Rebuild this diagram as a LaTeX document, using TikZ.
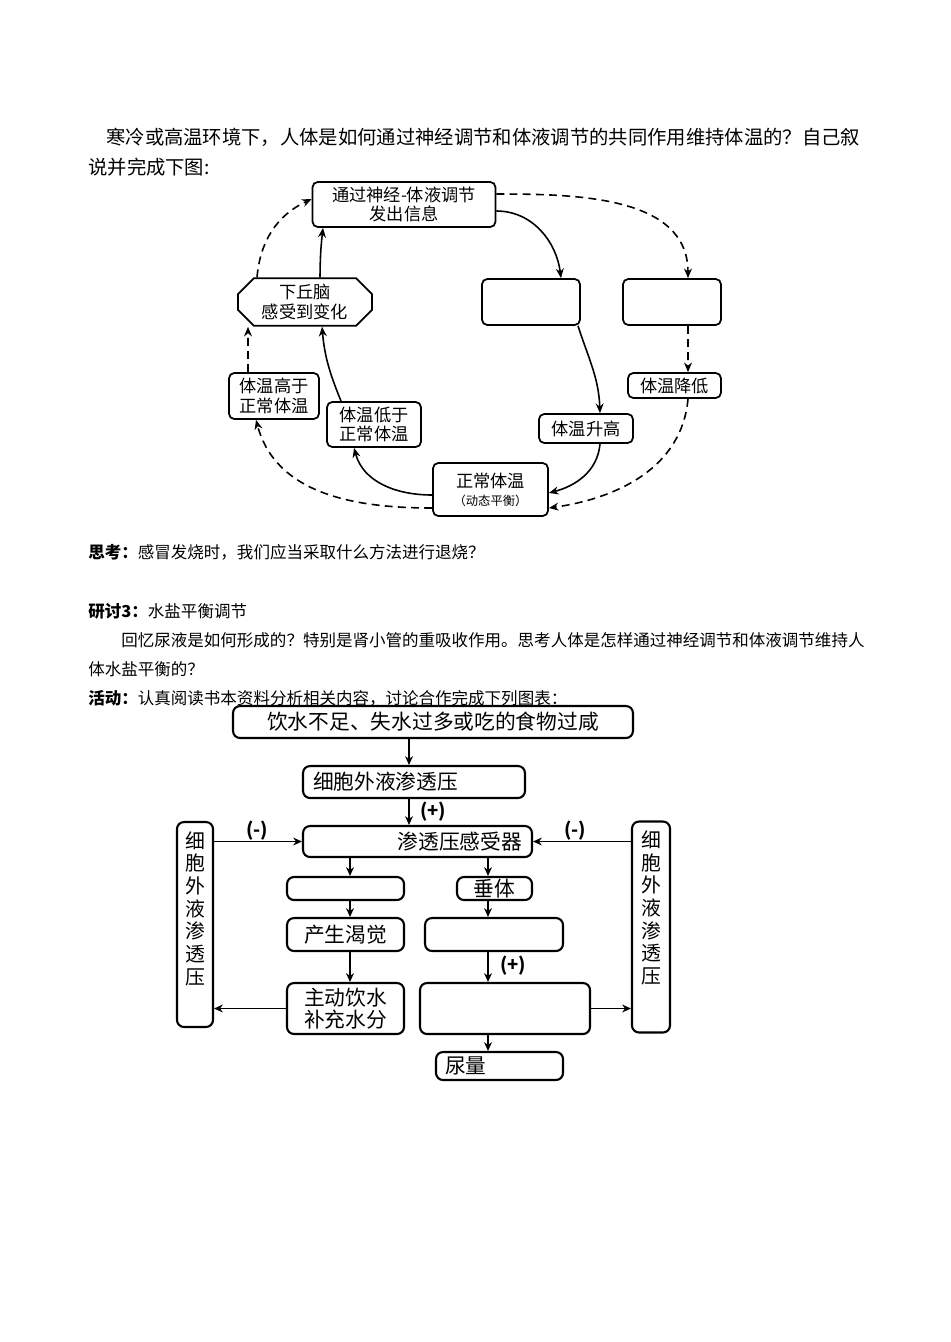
\documentclass[tikz,border=0pt]{standalone}
\usepackage{fontspec}
\setmainfont{Noto Sans CJK SC}
\usetikzlibrary{arrows.meta,shapes.misc}

\begin{document}
\begin{tikzpicture}[x=0.02cm,y=-0.02cm,
        txt/.style={anchor=west,inner sep=0pt,font=\fontsize{9.4}{11}\selectfont},
        box/.style={draw,fill=white,rounded corners=3pt,line width=1pt,align=center,inner sep=1pt,
            font=\fontsize{9.8}{11.3}\selectfont},
        brain/.style={box,sharp corners,chamfered rectangle,inner sep=0pt,
            chamfered rectangle xsep=0.2cm,chamfered rectangle ysep=0.12cm},
        wire/.style={line width=0.9pt,-{Stealth[length=5.5pt,width=4.5pt]}},
        dwire/.style={wire,dash pattern=on 4.5pt off 3pt},
        blk/.style={draw,fill=white,rounded corners=4pt,line width=1.2pt,inner sep=2pt,align=center,
            font=\fontsize{11.8}{12.5}\selectfont},
        flow/.style={line width=1.1pt,-{Stealth[length=5pt,width=4.5pt]}},
        sign/.style={inner sep=0pt,font=\bfseries\fontsize{10.5}{11}\selectfont}]
    \useasboundingbox (0,0) rectangle (950,1342);
    % Paragraph text
    \node[txt,font=\fontsize{11}{13}\selectfont] (ask1) at (106,137)
        {寒冷或高温环境下，人体是如何通过神经调节和体液调节的共同作用维持体温的？自己叙};
    \node[txt,font=\fontsize{11}{13}\selectfont] (ask2) at (88,167) {说并完成下图:};
    \node[txt] (think) at (88,552) {\textbf{思考：}感冒发烧时，我们应当采取什么方法进行退烧？};
    \node[txt] (sec3) at (88,611) {\textbf{研讨3：}水盐平衡调节};
    \node[txt] (recall1) at (121,640)
        {回忆尿液是如何形成的？特别是肾小管的重吸收作用。思考人体是怎样通过神经调节和体液调节维持人};
    \node[txt] (recall2) at (88,669) {体水盐平衡的？};
    \node[txt] (act) at (88,698) {\textbf{活动：}认真阅读书本资料分析相关内容，讨论合作完成下列图表：};
    % Temperature loop
    \node[box,minimum width=3.66cm,minimum height=0.9cm] (signal) at (404,204.5) {通过神经-体液调节\\发出信息};
    \node[brain,minimum width=2.68cm,minimum height=0.92cm] (hypo) at (305,302) {下丘脑\\感受到变化};
    \node[box,minimum width=1.96cm,minimum height=0.92cm] (effA) at (531,302) {};
    \node[box,minimum width=1.96cm,minimum height=0.92cm] (effB) at (672,302) {};
    \node[box,minimum width=1.8cm,minimum height=0.92cm] (high) at (274,396) {体温高于\\正常体温};
    \node[box,minimum width=1.88cm,minimum height=0.9cm] (low) at (374,424.5) {体温低于\\正常体温};
    \node[box,minimum width=1.88cm,minimum height=0.58cm] (rise) at (586,428.5) {体温升高};
    \node[box,minimum width=1.86cm,minimum height=0.5cm] (fall) at (674.5,385.5) {体温降低};
    \node[box,minimum width=2.3cm,minimum height=1.06cm] (norm) at (490.5,489.5)
        {正常体温\\[-1pt]{\fontsize{7}{8}\selectfont （动态平衡）}};
    \draw[wire] ([xshift=0.3cm]hypo.north) to[bend left=3] ([xshift=-1.62cm]signal.south);
    \draw[dwire] ([xshift=-0.96cm]hypo.north) to[out=85,in=205] ([yshift=0.11cm]signal.west);
    \draw[wire] ([yshift=-0.13cm]signal.east) to[out=0,in=97] ([xshift=0.6cm]effA.north);
    \draw[dwire] ([yshift=0.21cm]signal.east) to[out=0,in=90] ([xshift=0.32cm]effB.north);
    \draw[wire] ([xshift=0.94cm]effA.south) to[out=-72,in=92] ([xshift=0.28cm]rise.north);
    \draw[dwire] ([xshift=0.32cm]effB.south) -- ([xshift=0.27cm]fall.north);
    \draw[wire] ([xshift=0.28cm]rise.south) to[out=-95,in=15] ([yshift=-0.07cm]norm.east);
    \draw[dwire] ([xshift=0.27cm]fall.south) to[out=-95,in=8] ([yshift=-0.37cm]norm.east);
    \draw[wire] ([yshift=-0.11cm]norm.west) to[out=180,in=-75] ([xshift=-0.4cm]low.south);
    \draw[dwire] ([yshift=-0.37cm]norm.west) to[out=180,in=-75] ([xshift=-0.36cm]high.south);
    \draw[wire] ([xshift=-0.66cm]low.north) to[out=112,in=-85] ([xshift=0.34cm]hypo.south);
    \draw[dwire] ([xshift=-0.52cm]high.north) -- ([xshift=-1.14cm]hypo.south);
    % Water and salt balance
    \node[blk,minimum width=8cm,minimum height=0.64cm] (cause) at (433,722) {饮水不足、失水过多或吃的食物过咸};
    \node[blk,minimum height=0.64cm,inner xsep=0.2cm,text width=4.04cm,align=left] (ecf) at (414,782) {细胞外液渗透压};
    \node[blk,minimum height=0.62cm,inner xsep=0.2cm,text width=4.18cm,align=right] (recep) at (417.5,841.5) {渗透压感受器};
    \node[blk,minimum width=0.72cm,minimum height=4.1cm] (leftcol) at (195,924.5) {};
    \node[blk,minimum width=0.76cm,minimum height=4.22cm] (rightcol) at (651,927) {};
    \node[below=0.2cm,inner sep=0pt,align=center,font=\fontsize{11.3}{12.9}\selectfont] (leftlbl)
        at (leftcol.north) {细\\胞\\外\\液\\渗\\透\\压};
    \node[below=0.2cm,inner sep=0pt,align=center,font=\fontsize{11.3}{12.9}\selectfont] (rightlbl)
        at (rightcol.north) {细\\胞\\外\\液\\渗\\透\\压};
    \node[blk,minimum width=2.34cm,minimum height=0.46cm] (thirstIn) at (345.5,888.5) {};
    \node[blk,minimum width=1.5cm,minimum height=0.46cm,inner sep=0pt] (pit) at (494.5,888.5) {垂体};
    \node[blk,minimum width=2.34cm,minimum height=0.66cm] (thirst) at (345.5,934.5) {产生渴觉};
    \node[blk,minimum width=2.76cm,minimum height=0.66cm] (adh) at (494,934.5) {};
    \node[blk,minimum width=2.34cm,minimum height=1.02cm] (drink) at (345.5,1008.5) {主动饮水\\补充水分};
    \node[blk,minimum width=3.4cm,minimum height=1.02cm] (tubule) at (505,1008.5) {};
    \node[blk,minimum height=0.56cm,inner sep=0pt,inner xsep=0.18cm,text width=2.18cm,align=left] (urine)
        at (499.5,1066) {尿量};
    \node[sign] (plusA) at (433,812) {(+)};
    \node[sign] (minusL) at (257,831) {(-)};
    \node[sign] (minusR) at (575,831) {(-)};
    \node[sign] (plusB) at (513,966) {(+)};
    \coordinate (colT) at (409,0);
    \coordinate (colL) at (350,0);
    \coordinate (colR) at (488,0);
    \draw[flow] (cause.south -| colT) -- (ecf.north -| colT);
    \draw[flow] (ecf.south -| colT) -- (recep.north -| colT);
    \draw[flow] (recep.south -| colL) -- (thirstIn.north -| colL);
    \draw[flow] (thirstIn.south -| colL) -- (thirst.north -| colL);
    \draw[flow] (thirst.south -| colL) -- (drink.north -| colL);
    \draw[flow] (recep.south -| colR) -- (pit.north -| colR);
    \draw[flow] (pit.south -| colR) -- (adh.north -| colR);
    \draw[flow] (adh.south -| colR) -- (tubule.north -| colR);
    \draw[flow] (tubule.south -| colR) -- (urine.north -| colR);
    \draw[flow] (leftcol.east |- recep.west) -- (recep.west);
    \draw[flow] (rightcol.west |- recep.east) -- (recep.east);
    \draw[flow] (drink.west) -- (leftcol.east |- drink.west);
    \draw[flow] (tubule.east) -- (rightcol.west |- tubule.east);
\end{tikzpicture}
\end{document}
